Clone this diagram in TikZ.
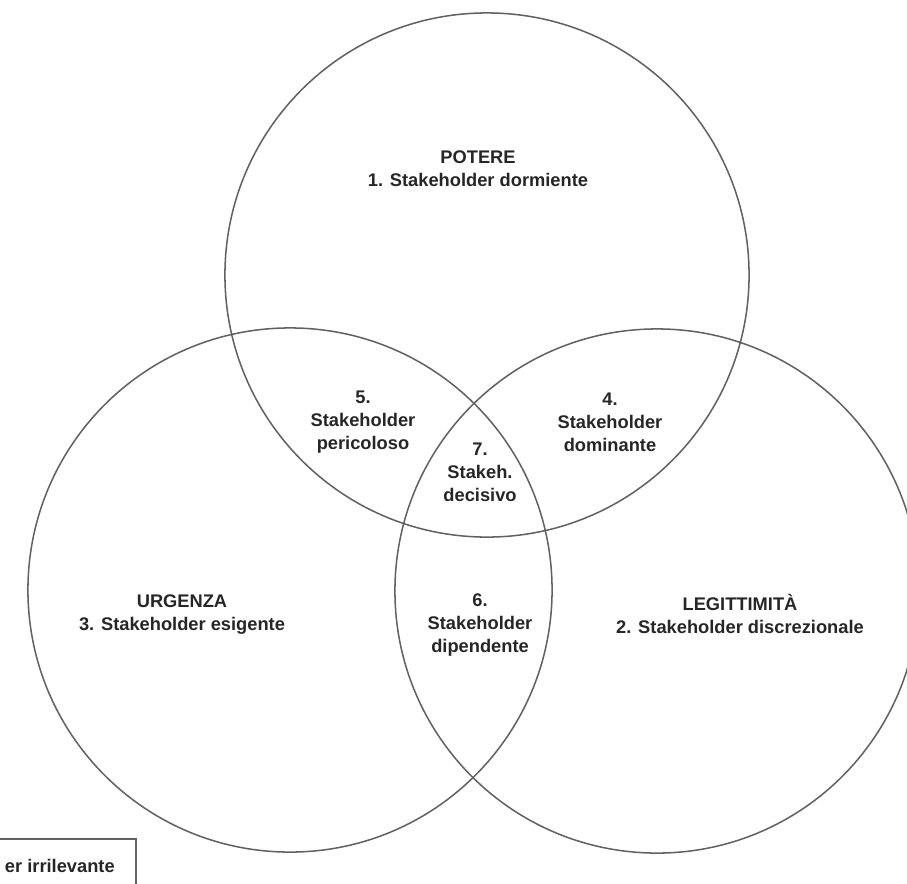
\documentclass[tikz,border=0pt]{standalone}
\usepackage{fontspec}
\setmainfont{Liberation Sans}
\begin{document}
\begin{tikzpicture}[x=0.025cm, y=-0.025cm,
    cerchio/.style={draw=black!62, line width=0.38mm},
    etichetta/.style={font=\bfseries\fontsize{13}{16.4}\selectfont, text=black!85, align=center}]
        \useasboundingbox (0,0) rectangle (907,883);
        \clip (0,0) rectangle (907,883);
        %%%%%%%%%%%%%%%%%%%%%%%% Cerchi %%%%%%%%%%%%%%%%%%%%%%%%%%%%%%%%%%%
        \draw[cerchio] (487,275) circle (6.55cm); %Potere
        \draw[cerchio] (290,590) circle (6.55cm); %Urgenza
        \draw[cerchio] (657,591) circle (6.55cm); %Legittimita
        %%%%%%%%%%%%%%%%%%%%%%%% Etichette %%%%%%%%%%%%%%%%%%%%%%%%%%%%%%%%
        \node[etichetta] (potere) at (478,169) {POTERE\\1. Stakeholder dormiente};
        \node[etichetta] (urgenza) at (182,615) {URGENZA\\3. Stakeholder esigente};
        \node[etichetta] (legittimita) at (740,614) {LEGITTIMITÀ\\2. Stakeholder discrezionale};
        \node[etichetta] (pericoloso) at (363,422) {5.\\Stakeholder\\pericoloso};
        \node[etichetta] (dominante) at (610,422) {4.\\Stakeholder\\dominante};
        \node[etichetta] (decisivo) at (480,472) {7.\\Stakeh.\\decisivo};
        \node[etichetta] (dipendente) at (480,625) {6.\\Stakeholder\\dipendente};
        %%%%%%%%%%%%%%%%%%%%%%%% Riquadro in basso %%%%%%%%%%%%%%%%%%%%%%%
        \draw[draw=black!62, line width=0.3mm] (-5,839) rectangle (136,900);
        \node[etichetta, anchor=west] (irrilevante) at (0,866) {er irrilevante};
      \end{tikzpicture}
\end{document}
